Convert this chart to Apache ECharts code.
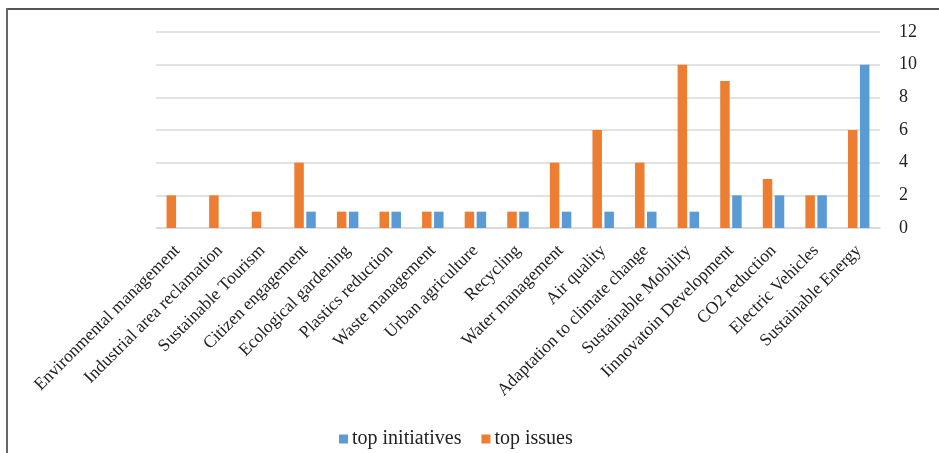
<!DOCTYPE html>
<html>
<head>
<meta charset="utf-8">
<script src="https://cdn.jsdelivr.net/npm/echarts@6/dist/echarts.min.js"></script>
<style>html,body{margin:0;padding:0;background:#fff;}#c{width:939px;height:453px;}</style>
</head>
<body>
<div id="c"></div>
<script>
const categories = ["Environmental management","Industrial area reclamation","Sustainable Tourism","Citizen engagement","Ecological gardening","Plastics reduction","Waste management","Urban agriculture","Recycling","Water management","Air quality","Adaptation to climate change","Sustainable Mobility","Iinnovatoin Development","CO2 reduction","Electric Vehicles","Sustainable Energy"];
const topIssues = [2,2,1,4,1,1,1,1,1,4,6,4,10,9,3,2,6];
const topInitiatives = [0,0,0,1,1,1,1,1,1,1,1,1,1,2,2,2,10];
const yTicks = [0,2,4,6,8,10,12];

const FONT = "'Liberation Serif','Times New Roman',serif";
const chart = echarts.init(document.getElementById('c'));
chart.setOption({
  animation: false,
  backgroundColor: '#fff',
  graphic: [
    {type:'line', shape:{x1:6, y1:9, x2:939, y2:9}, style:{stroke:'#555', lineWidth:2}},
    {type:'line', shape:{x1:7, y1:8, x2:7, y2:453}, style:{stroke:'#666', lineWidth:2}}
  ],
  legend: {
    data: ['top initiatives','top issues'],
    left: 334, top: 424,
    itemWidth: 9, itemHeight: 9, itemGap: 20,
    icon: 'rect',
    textStyle: {fontFamily: FONT, fontSize: 20, color: '#222', padding:[0,0,0,-1]}
  },
  grid: {left: 156, right: 59, top: 32, bottom: 225, containLabel: false},
  xAxis: {
    type: 'category',
    data: categories,
    axisLine: {lineStyle: {color: '#d9d9d9', width: 1.5}},
    axisTick: {show: false},
    axisLabel: {rotate: 45, interval: 0, margin: 20, fontFamily: FONT, fontSize: 17.5, color: '#222'}
  },
  yAxis: {
    type: 'value',
    position: 'right',
    min: 0, max: 12, interval: 2,
    axisLine: {show: false},
    axisTick: {show: false},
    splitLine: {lineStyle: {color: '#d9d9d9', width: 1.5}},
    axisLabel: {margin: 19, fontFamily: FONT, fontSize: 18, color: '#222',
      formatter: v => yTicks.includes(v) ? String(v) : ''}
  },
  series: [
    {name: 'top issues', type: 'bar', data: topIssues, barWidth: 9.5, barGap: '26%', itemStyle: {color: '#ED7D31'}},
    {name: 'top initiatives', type: 'bar', data: topInitiatives, barWidth: 9.5, itemStyle: {color: '#5B9BD5'}}
  ]
});
</script>
</body>
</html>
